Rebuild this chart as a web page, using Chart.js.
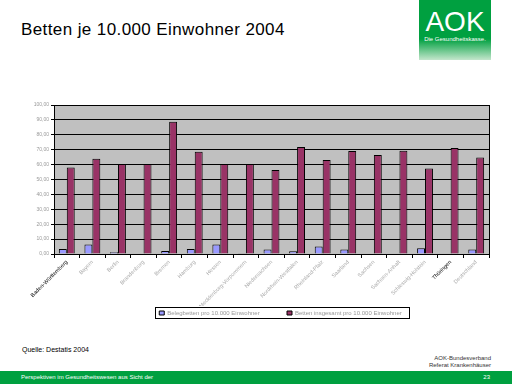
<!DOCTYPE html>
<html>
<head>
<meta charset="utf-8">
<script src="https://cdn.jsdelivr.net/npm/chart.js@4"></script>
<style>
  body { margin: 0; width: 512px; height: 384px; position: relative; overflow: hidden; background: #fff; font-family: "Liberation Sans", Arial, sans-serif; }
  #title { position: absolute; left: 21px; top: 20px; font-size: 17px; letter-spacing: 0.4px; color: #000; }
  #logo { position: absolute; left: 419px; top: 0; width: 72px; height: 60px; background: linear-gradient(to bottom, #00a040 0%, #00a040 65%, #c4e6cc 100%); color: #fff; text-align: center; }
  #logo .big { font-size: 28px; line-height: 28px; margin-top: 8px; }
  #logo .small { font-size: 6px; margin-top: 0px; }
  #wrap { position: absolute; left: 0; top: 100px; width: 512px; height: 230px; }
  #source { position: absolute; left: 22px; top: 346px; font-size: 7px; color: #000; }
  #org { position: absolute; right: 21px; top: 355px; font-size: 6px; color: #333; text-align: right; line-height: 7px; }
  #footer { position: absolute; left: 0; top: 371px; width: 512px; height: 13px; background: #00a040; color: #fff; font-size: 6px; }
  #footer .l { position: absolute; left: 21px; top: 3px; }
  #footer .r { position: absolute; right: 22px; top: 3px; }
</style>
</head>
<body>
<div id="title">Betten je 10.000 Einwohner 2004</div>
<div id="logo"><div class="big">AOK</div><div class="small">Die Gesundheitskasse.</div></div>
<div id="wrap"><canvas id="chart"></canvas></div>
<div id="source">Quelle: Destatis 2004</div>
<div id="org">AOK-Bundesverband<br>Referat Krankenhäuser</div>
<div id="footer"><span class="l">Perspektiven im Gesundheitswesen aus Sicht der</span><span class="r">23</span></div>
<script>
var laender = ['Baden-Württemberg', 'Bayern', 'Berlin', 'Brandenburg', 'Bremen', 'Hamburg', 'Hessen',
    'Mecklenburg-Vorpommern', 'Niedersachsen', 'Nordrhein-Westfalen', 'Rheinland-Pfalz', 'Saarland',
    'Sachsen', 'Sachsen-Anhalt', 'Schleswig-Holstein', 'Thüringen', 'Deutschland'];
var belegbetten = [3.3, 6.4, 1.2, 0.0, 2.0, 3.3, 6.4, 0.5, 3.1, 1.8, 5.1, 3.1, 0.4, 0.3, 3.8, 0.3, 3.1];
var bettenGesamt = [58.0, 64.0, 60.4, 60.4, 88.7, 68.7, 60.4, 60.4, 56.4, 71.8, 63.1, 69.1, 66.4, 69.3, 57.3, 71.1, 64.7];
var yMin = 0, yMax = 100, yStep = 10;

var plotBg = {
    id: 'plotBg',
    afterLayout: function(chart){
        // the legend sits a little right of centre in the original
        var lg = chart.legend;
        if(lg){ lg.left += 36; lg.right += 36; }
    },
    beforeDraw: function(chart){
        var c = chart.ctx, a = chart.chartArea;
        c.save();
        c.fillStyle = '#c0c0c0';
        c.fillRect(a.left, a.top, a.right - a.left, a.bottom - a.top);
        c.restore();
    },
    afterDraw: function(chart){
        var c = chart.ctx, a = chart.chartArea;
        c.save();
        c.strokeStyle = '#000';
        c.lineWidth = 1;
        c.beginPath();
        c.moveTo(a.right + 0.5, a.top);
        c.lineTo(a.right + 0.5, a.bottom);
        c.stroke();
        // box round the legend
        var boxes = chart.legend.legendHitBoxes;
        if(boxes && boxes.length){
            var x0 = boxes[0].left - 4, y0 = boxes[0].top - 3;
            var last = boxes[boxes.length - 1];
            var x1 = last.left + last.width + 8, y1 = last.top + last.height + 2;
            c.strokeRect(Math.round(x0) + 0.5, Math.round(y0) + 0.5, Math.round(x1 - x0), Math.round(y1 - y0));
        }
        c.restore();
    }
};

var chart = new Chart(document.getElementById('chart'), {
    type: 'bar',
    data: {
        labels: laender,
        datasets: [
            {
                label: 'Belegbetten pro 10.000 Einwohner',
                data: belegbetten,
                backgroundColor: '#9999ff',
                borderColor: '#000',
                borderWidth: 1
            },
            {
                label: 'Betten insgesamt pro 10.000 Einwohner',
                data: bettenGesamt,
                backgroundColor: '#993366',
                borderColor: '#000',
                borderWidth: 1
            }
        ]
    },
    options: {
        responsive: true,
        maintainAspectRatio: false,
        animation: false,
        layout: { padding: { top: 3, right: 23, bottom: 4, left: 0 } },
        datasets: { bar: { categoryPercentage: 0.62, barPercentage: 1 } },
        plugins: {
            legend: {
                position: 'bottom',
                labels: {
                    boxWidth: 5,
                    boxHeight: 4,
                    padding: 4,
                    color: '#999',
                    font: { family: 'Liberation Sans', size: 6 },
                    generateLabels: function(chart){
                        var items = Chart.defaults.plugins.legend.labels.generateLabels(chart);
                        // widen the first entry so the two sit apart as in the original
                        items[0].text = items[0].text + '              ';
                        return items;
                    }
                }
            },
            tooltip: { enabled: false }
        },
        scales: {
            x: {
                grid: { drawOnChartArea: false, drawTicks: true, tickLength: 4, color: '#000', offset: true },
                border: { color: '#000', width: 1 },
                ticks: {
                    minRotation: 45,
                    maxRotation: 45,
                    autoSkip: false,
                    padding: 1,
                    color: function(ctx){
                        var l = laender[ctx.index];
                        return (l === 'Baden-Württemberg' || l === 'Thüringen') ? '#000' : '#aaa';
                    },
                    font: { family: 'Liberation Sans', size: 5.5 }
                },
                afterFit: function(scale){ scale.height = 52; }
            },
            y: {
                min: yMin,
                max: yMax,
                grid: { color: '#000', lineWidth: 1, drawTicks: true, tickLength: 3, tickColor: '#000' },
                border: { color: '#000', width: 1 },
                ticks: {
                    stepSize: yStep,
                    padding: 2,
                    color: '#999',
                    font: { family: 'Liberation Sans', size: 5 },
                    callback: function(v){ return v.toFixed(2).replace('.', ','); }
                },
                afterFit: function(scale){ scale.width = 54; }
            }
        }
    },
    plugins: [plotBg]
});
</script>
</body>
</html>
